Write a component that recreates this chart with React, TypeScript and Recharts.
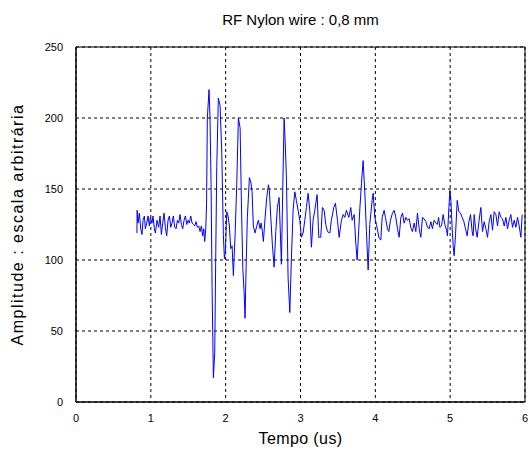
import { LineChart, Line, XAxis, YAxis, CartesianGrid, ReferenceArea, Label } from 'recharts';

const tempo = [
  0.814, 0.817, 0.829, 0.847, 0.865, 0.882, 0.896, 0.914, 0.927, 0.945, 0.963, 0.98, 0.994,
  1.016, 1.029, 1.047, 1.061, 1.083, 1.105, 1.123, 1.141, 1.159, 1.176, 1.194, 1.212, 1.23,
  1.248, 1.266, 1.283, 1.301, 1.319, 1.337, 1.355, 1.373, 1.39, 1.408, 1.426, 1.444, 1.462,
  1.48, 1.497, 1.515, 1.533, 1.551, 1.569, 1.586, 1.604, 1.622, 1.64, 1.658, 1.676, 1.693,
  1.707, 1.72, 1.734, 1.745, 1.755, 1.778, 1.791, 1.805, 1.818, 1.836, 1.854, 1.868, 1.881,
  1.902, 1.925, 1.948, 1.969, 1.983, 1.996, 2.015, 2.032, 2.049, 2.068, 2.086, 2.103, 2.126,
  2.148, 2.17, 2.193, 2.21, 2.229, 2.246, 2.259, 2.273, 2.29, 2.317, 2.336, 2.353, 2.37,
  2.393, 2.416, 2.437, 2.46, 2.473, 2.491, 2.504, 2.527, 2.549, 2.571, 2.584, 2.603, 2.624,
  2.647, 2.67, 2.691, 2.714, 2.723, 2.745, 2.763, 2.781, 2.794, 2.812, 2.834, 2.857, 2.878,
  2.901, 2.924, 2.945, 2.968, 2.991, 3.012, 3.035, 3.057, 3.079, 3.102, 3.124, 3.146, 3.168,
  3.191, 3.222, 3.244, 3.271, 3.293, 3.316, 3.338, 3.36, 3.392, 3.413, 3.445, 3.467, 3.494,
  3.516, 3.547, 3.57, 3.592, 3.614, 3.646, 3.672, 3.69, 3.717, 3.739, 3.757, 3.793, 3.815,
  3.837, 3.86, 3.881, 3.904, 3.926, 3.957, 3.971, 3.993, 4.015, 4.047, 4.073, 4.091, 4.118,
  4.135, 4.162, 4.18, 4.202, 4.229, 4.251, 4.274, 4.296, 4.318, 4.341, 4.363, 4.385, 4.408,
  4.429, 4.452, 4.474, 4.496, 4.519, 4.541, 4.563, 4.586, 4.608, 4.63, 4.652, 4.675, 4.697,
  4.719, 4.742, 4.763, 4.786, 4.809, 4.83, 4.845, 4.862, 4.884, 4.906, 4.929, 4.951, 4.964,
  4.983, 4.996, 5.009, 5.027, 5.04, 5.053, 5.071, 5.094, 5.116, 5.138, 5.16, 5.183, 5.205,
  5.227, 5.25, 5.272, 5.294, 5.307, 5.321, 5.339, 5.361, 5.384, 5.41, 5.432, 5.455, 5.477,
  5.499, 5.521, 5.544, 5.566, 5.588, 5.611, 5.633, 5.655, 5.678, 5.699, 5.722, 5.745, 5.766,
  5.789, 5.811, 5.833, 5.856, 5.878, 5.9, 5.922, 5.945, 5.963,
];

const amplitude = [
  119, 135, 126, 133, 122, 118, 128, 131, 122, 126, 131, 124, 130,
  126, 131, 122, 119, 128, 123, 131, 118, 126, 133, 123, 117, 128,
  131, 123, 126, 131, 123, 122, 128, 126, 132, 125, 122, 128, 131,
  125, 128, 126, 131, 126, 125, 124, 127, 123, 124, 120, 124, 117,
  122, 113, 122, 140, 200, 220, 200, 153, 82, 17, 35, 106, 165,
  214, 209, 176, 118, 101, 106, 134, 131, 124, 108, 110, 89, 118,
  153, 200, 193, 141, 94, 78, 59, 94, 130, 158, 155, 148, 124,
  119, 124, 128, 122, 126, 120, 113, 130, 144, 153, 149, 130, 111,
  95, 120, 137, 144, 131, 97, 150, 200, 185, 158, 88, 63, 100,
  135, 148, 142, 135, 128, 116, 119, 128, 137, 147, 135, 109, 128,
  135, 146, 116, 116, 137, 135, 125, 120, 119, 128, 137, 140, 128,
  116, 128, 132, 130, 135, 130, 137, 128, 132, 112, 100, 136, 154,
  170, 147, 120, 93, 125, 142, 147, 130, 125, 116, 114, 130, 135,
  130, 122, 120, 128, 133, 135, 130, 122, 116, 130, 133, 126, 130,
  128, 129, 123, 120, 126, 120, 133, 122, 116, 130, 129, 127, 123,
  122, 127, 122, 128, 126, 125, 130, 123, 124, 132, 125, 121, 117,
  137, 149, 143, 122, 110, 103, 117, 142, 134, 133, 130, 127, 122,
  117, 127, 132, 120, 117, 132, 122, 116, 127, 137, 120, 127, 122,
  116, 127, 132, 121, 134, 132, 124, 134, 130, 129, 124, 130, 122,
  128, 132, 123, 128, 123, 130, 124, 116, 132,
];

const xTicks = [0, 1, 2, 3, 4, 5, 6];
const yTicks = [0, 50, 100, 150, 200, 250];

const data = tempo.map((t, i) => ({ t, a: amplitude[i] }));

const font = '"Liberation Sans", Arial, sans-serif';

export default function App() {
  return (
    <div style={{ position: 'fixed', left: 0, top: 0, width: 529, height: 450, background: '#fff', fontFamily: font }}>
      <div
        style={{
          position: 'absolute',
          left: 76,
          width: 449,
          top: 11,
          textAlign: 'center',
          fontSize: 15,
          color: '#000',
        }}
      >
        RF Nylon wire : 0,8 mm
      </div>
      <LineChart width={529} height={450} data={data} margin={{ top: 47, right: 4, left: 0, bottom: 0 }}>
        <CartesianGrid stroke="#000" strokeDasharray="3 3" />
        <XAxis
          type="number"
          dataKey="t"
          domain={[0, 6]}
          ticks={xTicks}
          height={48}
          tickLine={false}
          tickMargin={6}
          stroke="#000"
          tick={{ fill: '#000', fontSize: 11, fontFamily: font }}
        >
          <Label
            value="Tempo (us)"
            position="insideBottom"
            offset={6}
            style={{ fontSize: 16, fill: '#000', fontFamily: font, letterSpacing: 0.4 }}
          />
        </XAxis>
        <YAxis
          type="number"
          domain={[0, 250]}
          ticks={yTicks}
          width={76}
          tickLine={false}
          tickMargin={7}
          stroke="#000"
          tick={{ fill: '#000', fontSize: 11, fontFamily: font }}
        >
          <Label
            value="Amplitude : escala arbitrária"
            angle={-90}
            position="insideLeft"
            offset={17}
            style={{ fontSize: 16, fill: '#000', textAnchor: 'middle', fontFamily: font, letterSpacing: 1.5 }}
          />
        </YAxis>
        <ReferenceArea x1={0} x2={6} y1={0} y2={250} fill="none" stroke="#000" strokeWidth={1} />
        <Line
          type="linear"
          dataKey="a"
          stroke="#0000ff"
          strokeWidth={1}
          dot={false}
          isAnimationActive={false}
        />
      </LineChart>
    </div>
  );
}
